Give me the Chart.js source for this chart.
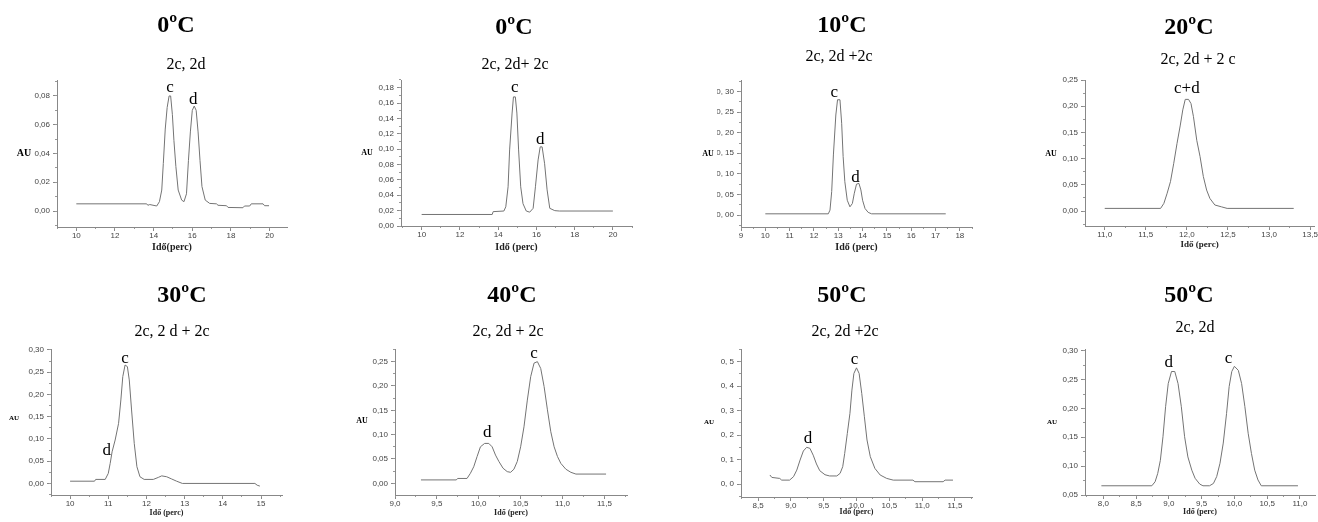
<!DOCTYPE html>
<html>
<head>
  <meta charset="utf-8">
  <title>Kromatogramok</title>
  <script src="https://cdn.jsdelivr.net/npm/chart.js"></script>
  <style>
    body {
      margin: 0;
      width: 1318px;
      height: 522px;
      position: relative;
      overflow: hidden;
      background-color: #fff;
    }
    canvas {
      position: absolute;
    }
  </style>
</head>
<body>
  <script>
    // --- data (x = Idő / perc, y = AU) ---
    var titles = ['0ºC', '0ºC', '10ºC', '20ºC', '30ºC', '40ºC', '50ºC', '50ºC'];
    var subtitles = ['2c, 2d', '2c, 2d+ 2c', '2c, 2d +2c', '2c, 2d + 2 c', '2c, 2 d + 2c', '2c, 2d + 2c', '2c, 2d +2c', '2c, 2d'];
    var xTitles = ['Idő(perc)', 'Idő (perc)', 'Idő (perc)', 'Idő (perc)', 'Idő (perc)', 'Idő (perc)', 'Idő (perc)', 'Idő (perc)'];

    var x1 = [10, 13.64, 13.7, 13.8, 14.16, 14.3, 14.42, 14.5, 14.6, 14.7, 14.8, 14.88, 14.97, 15.05, 15.15, 15.27, 15.45, 15.57, 15.7, 15.8, 15.9, 16.0, 16.1, 16.2, 16.3, 16.4, 16.5, 16.67, 16.9, 17.25, 17.33, 17.77, 17.85, 18.62, 18.7, 18.97, 19.05, 19.66, 19.74, 19.97];
    var y1 = [0.005, 0.005, 0.004, 0.0045, 0.0035, 0.0065, 0.0146, 0.033, 0.057, 0.072, 0.080, 0.080, 0.067, 0.049, 0.031, 0.0146, 0.0076, 0.0065, 0.012, 0.035, 0.055, 0.070, 0.073, 0.070, 0.055, 0.035, 0.017, 0.0076, 0.0053, 0.005, 0.004, 0.0037, 0.0025, 0.0023, 0.0035, 0.0035, 0.005, 0.005, 0.0037, 0.0037];

    var x2 = [10, 13.69, 13.74, 14.3, 14.4, 14.52, 14.6, 14.73, 14.8, 14.9, 14.98, 15.07, 15.18, 15.3, 15.47, 15.65, 15.83, 15.95, 16.09, 16.2, 16.3, 16.43, 16.56, 16.7, 16.96, 17.2, 20];
    var y2 = [0.015, 0.015, 0.0187, 0.0195, 0.025, 0.051, 0.099, 0.147, 0.168, 0.168, 0.147, 0.099, 0.051, 0.029, 0.0195, 0.018, 0.023, 0.051, 0.086, 0.103, 0.103, 0.081, 0.047, 0.023, 0.020, 0.0195, 0.0195];

    var x3 = [10, 12.59, 12.66, 12.73, 12.8, 12.9, 12.97, 13.07, 13.14, 13.2, 13.27, 13.37, 13.48, 13.58, 13.66, 13.75, 13.85, 13.93, 14.0, 14.1, 14.23, 14.37, 17.42];
    var y3 = [0.003, 0.003, 0.012, 0.057, 0.146, 0.243, 0.28, 0.28, 0.223, 0.142, 0.081, 0.036, 0.020, 0.028, 0.053, 0.075, 0.077, 0.061, 0.036, 0.016, 0.0065, 0.003, 0.003];

    var x4 = [11.0, 11.68, 11.72, 11.76, 11.8, 11.84, 11.88, 11.92, 11.95, 11.98, 12.02, 12.05, 12.08, 12.12, 12.16, 12.2, 12.24, 12.28, 12.34, 12.42, 12.49, 13.3];
    var y4 = [0.005, 0.005, 0.0146, 0.034, 0.056, 0.091, 0.129, 0.164, 0.193, 0.213, 0.213, 0.205, 0.18, 0.135, 0.104, 0.066, 0.040, 0.024, 0.0115, 0.008, 0.005, 0.005];

    var x5 = [10, 10.64, 10.67, 10.92, 11.0, 11.05, 11.1, 11.18, 11.27, 11.33, 11.38, 11.44, 11.5, 11.55, 11.61, 11.68, 11.75, 11.83, 11.94, 12.18, 12.31, 12.4, 12.53, 12.66, 12.79, 12.94, 14.84, 14.9, 14.97];
    var y5 = [0.005, 0.005, 0.009, 0.009, 0.0225, 0.045, 0.071, 0.0975, 0.135, 0.1875, 0.24, 0.266, 0.2625, 0.2325, 0.165, 0.09, 0.0375, 0.015, 0.009, 0.009, 0.0135, 0.017, 0.015, 0.01, 0.005, 0.0, 0.0, -0.004, -0.006];

    var x6 = [9.31, 9.73, 9.75, 9.86, 9.9, 9.94, 9.98, 10.02, 10.07, 10.12, 10.16, 10.2, 10.24, 10.29, 10.34, 10.38, 10.42, 10.46, 10.5, 10.54, 10.58, 10.62, 10.66, 10.7, 10.74, 10.78, 10.82, 10.86, 10.9, 10.94, 10.98, 11.04, 11.1, 11.16, 11.52];
    var y6 = [0.007, 0.007, 0.010, 0.010, 0.0205, 0.034, 0.055, 0.075, 0.082, 0.082, 0.075, 0.058, 0.045, 0.031, 0.024, 0.0226, 0.029, 0.045, 0.075, 0.116, 0.171, 0.219, 0.247, 0.25, 0.236, 0.199, 0.151, 0.106, 0.075, 0.055, 0.041, 0.029, 0.0226, 0.019, 0.019];

    var x7 = [8.68, 8.71, 8.83, 8.86, 8.98, 9.04, 9.09, 9.14, 9.19, 9.24, 9.29, 9.34, 9.39, 9.44, 9.52, 9.59, 9.7, 9.75, 9.79, 9.82, 9.86, 9.9, 9.93, 9.96, 10.0, 10.04, 10.08, 10.12, 10.16, 10.21, 10.28, 10.36, 10.46, 10.56, 10.86, 10.89, 11.32, 11.35, 11.47];
    var y7 = [0.037, 0.027, 0.023, 0.016, 0.016, 0.030, 0.057, 0.098, 0.135, 0.15, 0.146, 0.118, 0.082, 0.0545, 0.038, 0.033, 0.033, 0.0436, 0.071, 0.125, 0.207, 0.289, 0.384, 0.452, 0.475, 0.452, 0.37, 0.275, 0.18, 0.112, 0.064, 0.037, 0.023, 0.016, 0.016, 0.0095, 0.0095, 0.016, 0.016];

    var x8 = [7.97, 8.74, 8.79, 8.83, 8.87, 8.91, 8.95, 8.99, 9.04, 9.09, 9.14, 9.19, 9.24, 9.29, 9.35, 9.4, 9.47, 9.52, 9.62, 9.68, 9.73, 9.78, 9.83, 9.88, 9.92, 9.96, 10.0, 10.06, 10.11, 10.16, 10.21, 10.26, 10.31, 10.36, 10.41, 10.97];
    var y8 = [0.066, 0.066, 0.073, 0.0875, 0.11, 0.151, 0.203, 0.243, 0.264, 0.264, 0.243, 0.203, 0.151, 0.116, 0.093, 0.079, 0.069, 0.066, 0.066, 0.070, 0.082, 0.105, 0.14, 0.191, 0.238, 0.264, 0.273, 0.266, 0.243, 0.203, 0.157, 0.122, 0.093, 0.076, 0.066, 0.066];

    // peak letters: text, time, AU
    var peaks1 = [['c', 14.85, 0.0858], ['d', 16.05, 0.0775]];
    var peaks2 = [['c', 14.87, 0.180], ['d', 16.2, 0.112]];
    var peaks3 = [['c', 12.84, 0.298], ['d', 13.71, 0.091]];
    var peaks4 = [['c+d', 12.0, 0.234]];
    var peaks5 = [['c', 11.44, 0.28], ['d', 10.96, 0.073]];
    var peaks6 = [['c', 10.66, 0.267], ['d', 10.1, 0.104]];
    var peaks7 = [['c', 9.97, 0.507], ['d', 9.26, 0.187]];
    var peaks8 = [['d', 9.0, 0.279], ['c', 9.91, 0.286]];

    // tick values
    var xt1 = [10, 12, 14, 16, 18, 20], yt1 = [0, 0.02, 0.04, 0.06, 0.08];
    var xt2 = [10, 12, 14, 16, 18, 20], yt2 = [0, 0.02, 0.04, 0.06, 0.08, 0.10, 0.12, 0.14, 0.16, 0.18];
    var xt3 = [9, 10, 11, 12, 13, 14, 15, 16, 17, 18], yt3 = [0, 0.05, 0.10, 0.15, 0.20, 0.25, 0.30];
    var xt4 = [11, 11.5, 12, 12.5, 13, 13.5], yt4 = [0, 0.05, 0.10, 0.15, 0.20, 0.25];
    var xt5 = [10, 11, 12, 13, 14, 15], yt5 = [0, 0.05, 0.10, 0.15, 0.20, 0.25, 0.30];
    var xt6 = [9, 9.5, 10, 10.5, 11, 11.5], yt6 = [0, 0.05, 0.10, 0.15, 0.20, 0.25];
    var xt7 = [8.5, 9, 9.5, 10, 10.5, 11, 11.5], yt7 = [0, 0.1, 0.2, 0.3, 0.4, 0.5];
    var xt8 = [8, 8.5, 9, 9.5, 10, 10.5, 11], yt8 = [0.05, 0.10, 0.15, 0.20, 0.25, 0.30];

    var series = [[x1, y1], [x2, y2], [x3, y3], [x4, y4], [x5, y5], [x6, y6], [x7, y7], [x8, y8]];
    var peaks = [peaks1, peaks2, peaks3, peaks4, peaks5, peaks6, peaks7, peaks8];
    var xTicks = [xt1, xt2, xt3, xt4, xt5, xt6, xt7, xt8];
    var yTicks = [yt1, yt2, yt3, yt4, yt5, yt6, yt7, yt8];

    // --- layout (page pixels) ---
    var panels = [
      {cell: [0, 0, 330, 261], plot: [57, 80, 287, 227], xr: [9, 20.9], yr: [-0.0111, 0.0911], xm: 1, ym: 0.01, xd: 0, yd: 2, ys: ',', xGap: 20, xtSize: 10, title: [176, 26], sub: [186, 65], au: [24, 153, 10]},
      {cell: [330, 0, 330, 261], plot: [401, 80, 632, 226], xr: [8.92, 21], yr: [0, 0.19], xm: 1, ym: 0.01, xd: 0, yd: 2, ys: ',', xGap: 21, xtSize: 10, title: [514, 28], sub: [515, 65], au: [367, 153, 8]},
      {cell: [660, 0, 330, 261], plot: [741, 80, 972, 227], xr: [9, 18.5], yr: [-0.029, 0.328], xm: 0.5, ym: 0.025, xd: 0, yd: 2, ys: ', ', xGap: 20, xtSize: 10, title: [842, 26], sub: [839, 57], au: [708, 154, 8]},
      {cell: [990, 0, 328, 261], plot: [1085, 80, 1315, 226], xr: [10.76, 13.55], yr: [-0.0286, 0.25], xm: 0.25, ym: 0.025, xd: 1, yd: 2, ys: ',', xGap: 19, xtSize: 9, title: [1189, 28], sub: [1198, 60], au: [1051, 154, 8]},
      {cell: [0, 261, 330, 261], plot: [51, 349, 282, 495], xr: [9.5, 15.55], yr: [-0.026, 0.302], xm: 0.5, ym: 0.025, xd: 0, yd: 2, ys: ',', xGap: 18, xtSize: 8, title: [182, 296], sub: [172, 332], au: [14, 418, 7]},
      {cell: [330, 261, 330, 261], plot: [395, 349, 627, 495], xr: [9, 11.77], yr: [-0.024, 0.276], xm: 0.25, ym: 0.025, xd: 1, yd: 2, ys: ',', xGap: 18, xtSize: 8, title: [512, 296], sub: [508, 332], au: [362, 421, 8]},
      {cell: [660, 261, 330, 261], plot: [741, 349, 972, 497], xr: [8.24, 11.76], yr: [-0.053, 0.552], xm: 0.25, ym: 0.05, xd: 1, yd: 1, ys: ', ', xGap: 15, xtSize: 8, title: [842, 296], sub: [845, 332], au: [709, 422, 7]},
      {cell: [990, 261, 328, 261], plot: [1085, 349, 1315, 495], xr: [7.72, 11.23], yr: [0.05, 0.303], xm: 0.25, ym: 0.025, xd: 1, yd: 2, ys: ',', xGap: 17, xtSize: 8, title: [1189, 296], sub: [1195, 328], au: [1052, 422, 7]}
    ];

    var YW = 24; // forced width of the labelled y axis

    function fmt(v, dec, sep) {
      return v.toFixed(dec).replace('.', sep);
    }

    function steps(min, max, step) {
      var out = [];
      for (var v = Math.ceil(min / step - 1e-9) * step; v <= max + 1e-9; v += step) {
        out.push({value: v});
      }
      return out;
    }

    // title, subtitle and the horizontal "AU" label
    var panelText = {
      id: 'panelText',
      afterDraw: function(chart, args, o) {
        var ctx = chart.ctx;
        ctx.save();
        ctx.fillStyle = '#000';
        ctx.textAlign = 'center';
        ctx.textBaseline = 'middle';
        ctx.font = 'bold 24px "Liberation Serif"';
        ctx.fillText(o.title, o.tx, o.ty);
        ctx.font = '16px "Liberation Serif"';
        ctx.fillText(o.sub, o.sx, o.sy);
        ctx.font = 'bold ' + o.auSize + 'px "Liberation Serif"';
        ctx.fillText('AU', o.ax, o.ay);
        ctx.restore();
      }
    };

    // peak letters placed through the chart's scales
    var peakLabels = {
      id: 'peakLabels',
      afterDatasetsDraw: function(chart, args, o) {
        var ctx = chart.ctx, xs = chart.scales.x, ys = chart.scales.y;
        ctx.save();
        ctx.fillStyle = '#000';
        ctx.font = '17px "Liberation Serif"';
        ctx.textAlign = 'center';
        ctx.textBaseline = 'middle';
        o.items.forEach(function(p) {
          ctx.fillText(p[0], xs.getPixelForValue(p[1]), ys.getPixelForValue(p[2]));
        });
        ctx.restore();
      }
    };

    panels.forEach(function(p, i) {
      var c = document.createElement('canvas');
      c.width = p.cell[2];
      c.height = p.cell[3];
      c.style.left = p.cell[0] + 'px';
      c.style.top = p.cell[1] + 'px';
      document.body.appendChild(c);

      var xh = p.xGap + p.xtSize * 0.6;
      var pad = {
        left: p.plot[0] - p.cell[0] - YW,
        top: p.plot[1] - p.cell[1],
        right: p.cell[0] + p.cell[2] - p.plot[2],
        bottom: p.cell[1] + p.cell[3] - p.plot[3] - xh
      };
      var xs = series[i][0], ys = series[i][1];
      var tickFont = {family: '"Liberation Sans"', size: 8};

      new Chart(c, {
        type: 'scatter',
        data: {
          datasets: [{
            data: xs.map(function(x, k) { return {x: x, y: ys[k]}; }),
            showLine: true,
            borderColor: '#747474',
            borderWidth: 1,
            pointRadius: 0,
            tension: 0
          }]
        },
        options: {
          responsive: false,
          animation: false,
          devicePixelRatio: 1,
          layout: {padding: pad},
          plugins: {
            legend: {display: false},
            tooltip: {enabled: false},
            panelText: {
              title: titles[i], sub: subtitles[i],
              tx: p.title[0] - p.cell[0], ty: p.title[1] - p.cell[1],
              sx: p.sub[0] - p.cell[0], sy: p.sub[1] - p.cell[1],
              ax: p.au[0] - p.cell[0], ay: p.au[1] - p.cell[1], auSize: p.au[2]
            },
            peakLabels: {items: peaks[i]}
          },
          scales: {
            x: {
              type: 'linear', position: 'bottom', weight: 1, bounds: 'data',
              min: p.xr[0], max: p.xr[1],
              afterBuildTicks: function(s) { s.ticks = xTicks[i].map(function(v) { return {value: v}; }); },
              afterFit: function(s) { s.height = xh; },
              ticks: {
                autoSkip: false, maxRotation: 0, padding: 0, color: '#444', font: tickFont,
                callback: function(v) { return fmt(v, p.xd, ','); }
              },
              grid: {drawOnChartArea: false, tickLength: 4, tickColor: '#888'},
              border: {color: '#888'},
              title: {
                display: true, text: xTitles[i], color: '#222', padding: 0,
                font: {family: '"Liberation Serif"', size: p.xtSize, weight: 'bold'}
              }
            },
            xm: {
              type: 'linear', position: 'bottom', weight: 0, bounds: 'data',
              min: p.xr[0], max: p.xr[1],
              afterBuildTicks: function(s) { s.ticks = steps(p.xr[0], p.xr[1], p.xm); },
              afterFit: function(s) { s.height = 0; },
              ticks: {display: false},
              grid: {drawOnChartArea: false, tickLength: 2, tickColor: '#999'},
              border: {display: false}
            },
            y: {
              type: 'linear', position: 'left', weight: 1, bounds: 'data',
              min: p.yr[0], max: p.yr[1],
              afterBuildTicks: function(s) { s.ticks = yTicks[i].map(function(v) { return {value: v}; }); },
              afterFit: function(s) { s.width = YW; },
              ticks: {
                autoSkip: false, padding: 3, color: '#444', font: tickFont,
                callback: function(v) { return fmt(v, p.yd, p.ys); }
              },
              grid: {drawOnChartArea: false, tickLength: 4, tickColor: '#888'},
              border: {color: '#888'}
            },
            ym: {
              type: 'linear', position: 'left', weight: 0, bounds: 'data',
              min: p.yr[0], max: p.yr[1],
              afterBuildTicks: function(s) { s.ticks = steps(p.yr[0], p.yr[1], p.ym); },
              afterFit: function(s) { s.width = 0; },
              ticks: {display: false},
              grid: {drawOnChartArea: false, tickLength: 2, tickColor: '#999'},
              border: {display: false}
            }
          }
        },
        plugins: [panelText, peakLabels]
      });
    });
  </script>
</body>
</html>
